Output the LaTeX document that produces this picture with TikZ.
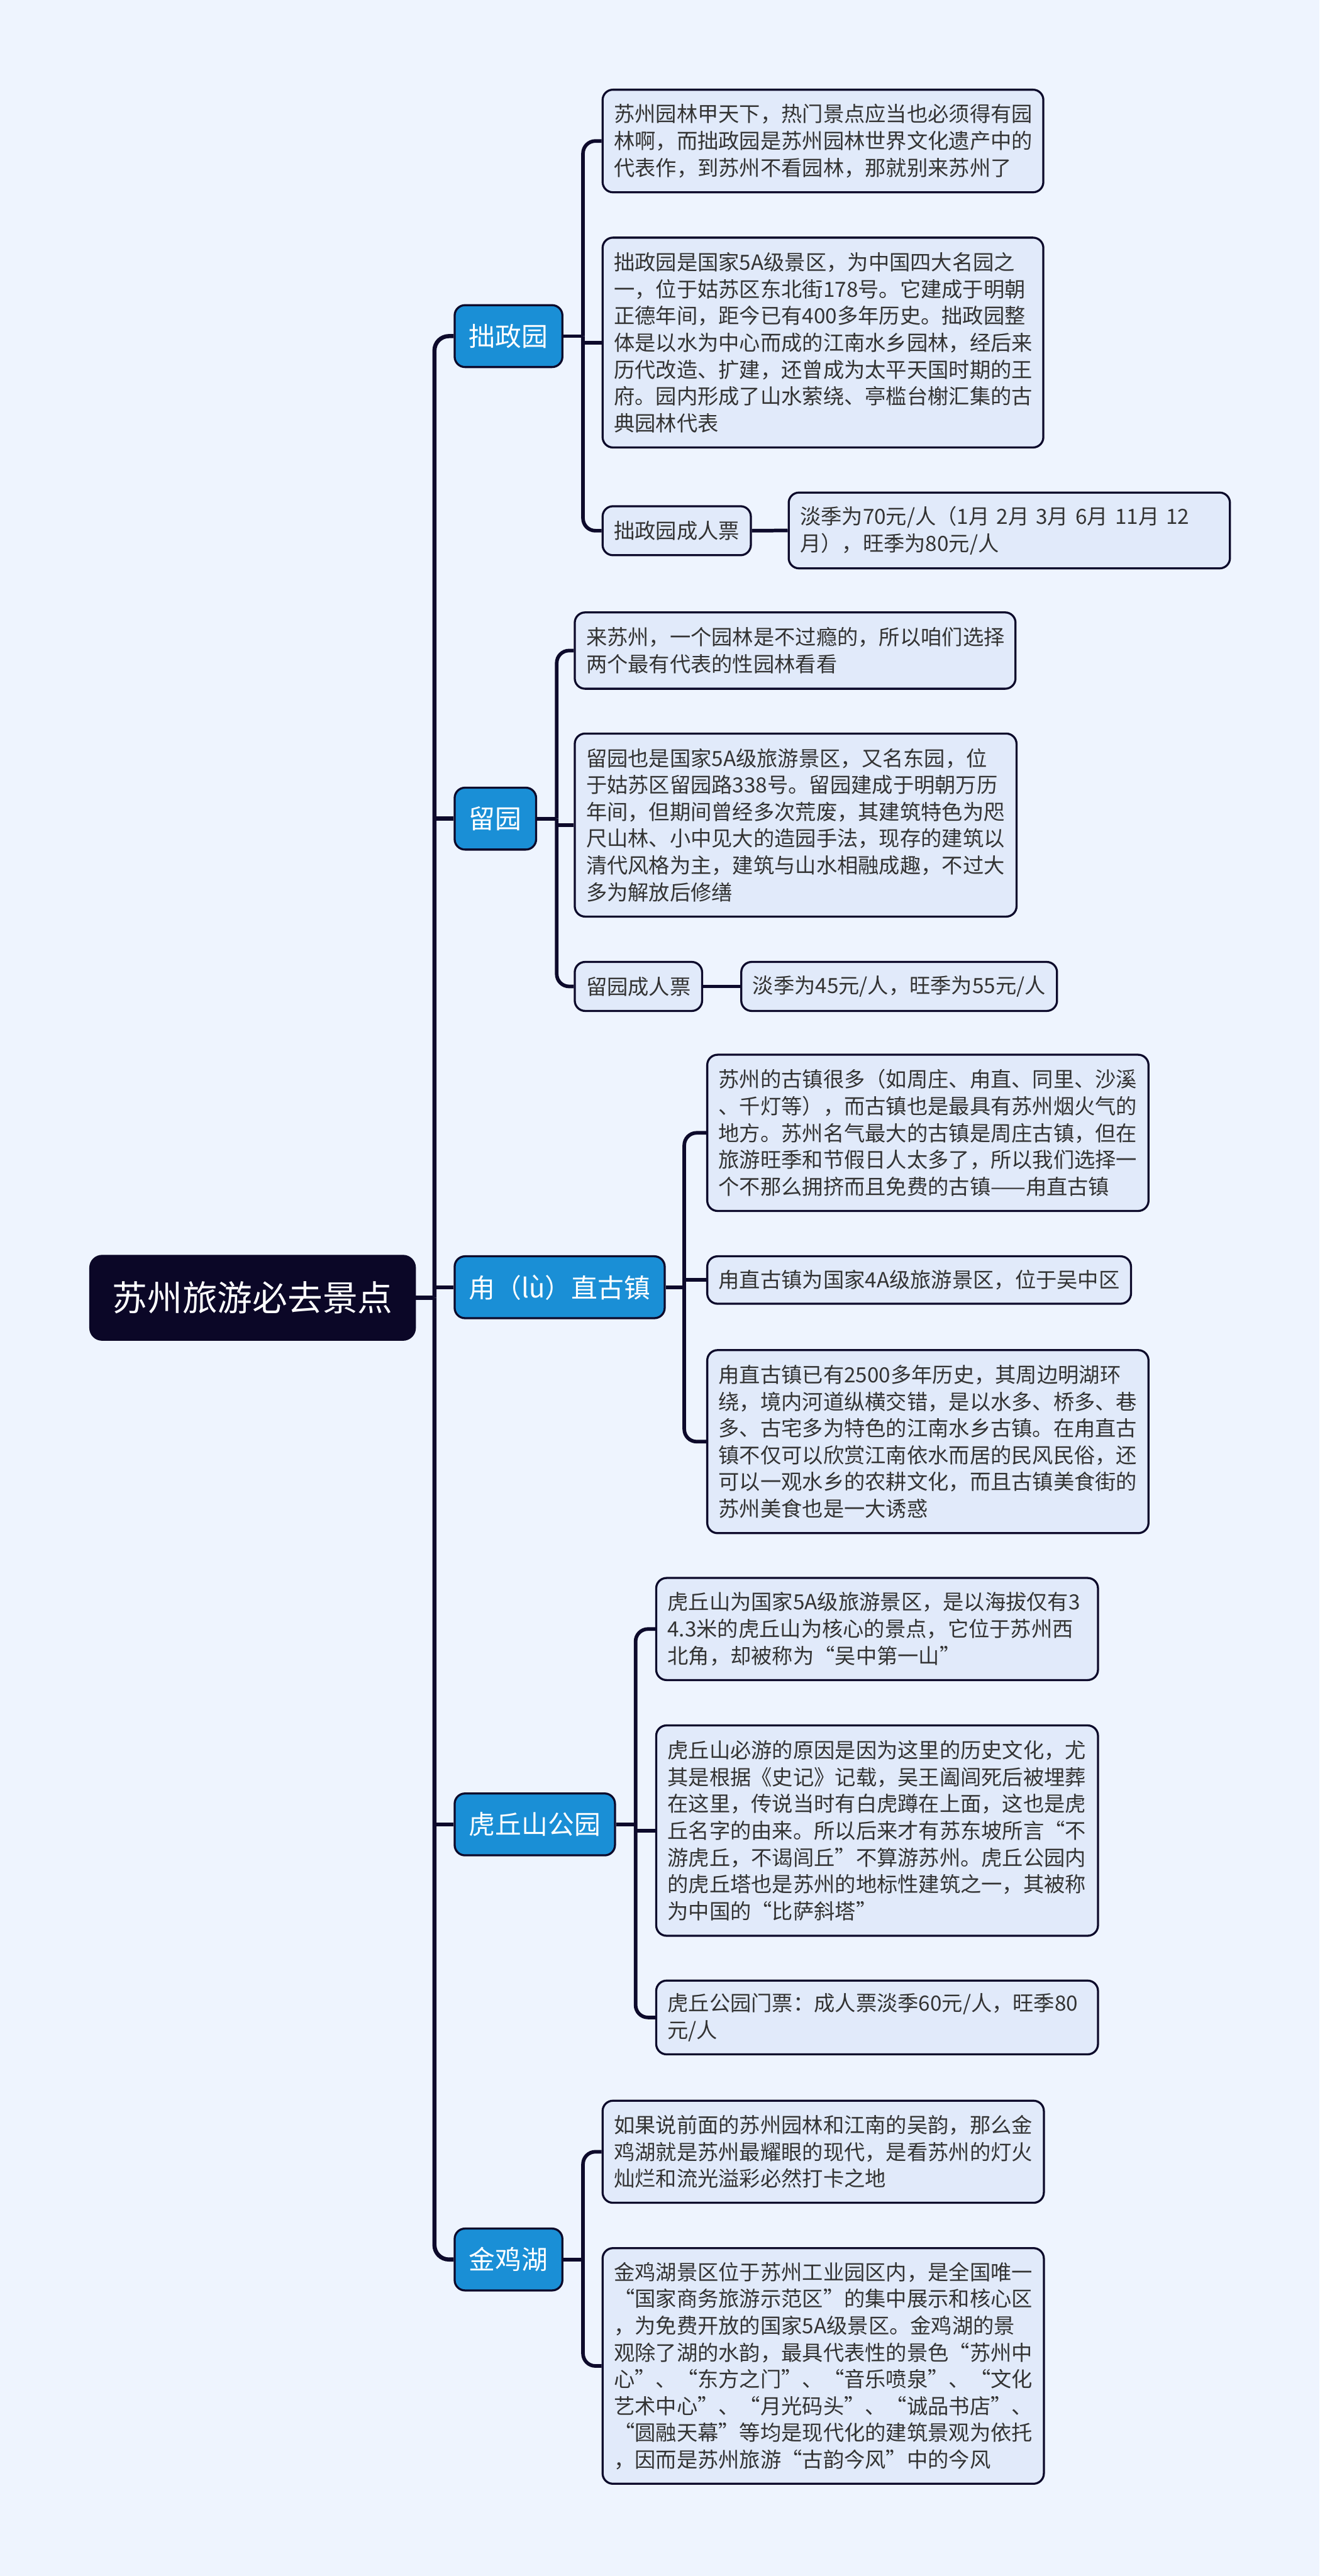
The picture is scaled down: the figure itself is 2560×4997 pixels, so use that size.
\documentclass[tikz,border=0pt]{standalone}
\usepackage{fontspec}
\setmainfont{Noto Sans CJK SC}
\newfontfamily\fwfont[CharacterWidth=Full]{Noto Sans CJK SC}
\newcommand\qL{{\fwfont “}}
\newcommand\qR{{\fwfont ”}}
\usetikzlibrary{backgrounds}
\setlength\parindent{0pt}
\definecolor{bgc}{HTML}{EEF4FE}
\definecolor{leafc}{HTML}{E1EAFA}
\definecolor{topicc}{HTML}{1A8FD6}
\definecolor{rootc}{HTML}{0B0727}
\definecolor{darkc}{HTML}{0D0A2B}
\definecolor{txtc}{HTML}{333333}
\tikzset{
  conn/.style={draw=darkc, line width=1.75pt},
  trunkline/.style={draw=darkc, line width=2pt},
  rootbox/.style={fill=rootc, draw=rootc, rounded corners=6pt, text=white,
    font=\fontsize{17}{20}\selectfont, minimum height=41.25pt, minimum width=158pt, inner sep=0pt},
  topic/.style={fill=topicc, draw=darkc, line width=1pt, rounded corners=5pt, text=white,
    font=\fontsize{12.75}{15}\selectfont, minimum height=30pt, inner xsep=7pt, inner ysep=0pt, anchor=west},
  leaf/.style={fill=leafc, draw=darkc, line width=1pt, rounded corners=5pt, text=txtc,
    font=\fontsize{10.15}{13}\selectfont, align=left, inner xsep=5.5pt, inner ysep=1pt, anchor=west},
}
\begin{document}
\begin{tikzpicture}[x=0.25pt,y=-0.25pt]
\useasboundingbox (0,0) rectangle (2560,4997);
\begin{pgfonlayer}{background}
\fill[bgc] (0,0) rectangle (2560,4997);
\end{pgfonlayer}

% root and topics
\node[rootbox] (root) at (490,2517.5) {苏州旅游必去景点};
\node[topic] (t1) at (880,652) {拙政园};
\node[topic] (t2) at (880,1588) {留园};
\node[topic] (t3) at (880,2497) {甪（lù）直古镇};
\node[topic] (t4) at (880,3539) {虎丘山公园};
\node[topic] (t5) at (880,4383) {金鸡湖};

% group A
\node[leaf, text width=202.75pt, minimum height=49.75pt] (a1) at (1167,273.5)
  {苏州园林甲天下，热门景点应当也必须得有园\\林啊，而拙政园是苏州园林世界文化遗产中的\\代表作，到苏州不看园林，那就别来苏州了};
\node[leaf, text width=202.75pt, minimum height=101.75pt] (a2) at (1167,664.5)
  {拙政园是国家5A级景区，为中国四大名园之\\一，位于姑苏区东北街178号。它建成于明朝\\正德年间，距今已有400多年历史。拙政园整\\体是以水为中心而成的江南水乡园林，经后来\\历代改造、扩建，还曾成为太平天国时期的王\\府。园内形成了山水萦绕、亭槛台榭汇集的古\\典园林代表};
\node[leaf, minimum height=23.75pt] (a3) at (1167,1029.5) {拙政园成人票};
\node[leaf, text width=203pt, minimum height=36.75pt] (a3c) at (1528,1029)
  {淡季为70元/人（1月 2月 3月 6月 11月 12\\月），旺季为80元/人};

% group B
\node[leaf, text width=202.75pt, minimum height=37pt] (b1) at (1113,1262)
  {来苏州，一个园林是不过瘾的，所以咱们选择\\两个最有代表的性园林看看};
\node[leaf, text width=203.25pt, minimum height=88.75pt] (b2) at (1113,1600.5)
  {留园也是国家5A级旅游景区，又名东园，位\\于姑苏区留园路338号。留园建成于明朝万历\\年间，但期间曾经多次荒废，其建筑特色为咫\\尺山林、小中见大的造园手法，现存的建筑以\\清代风格为主，建筑与山水相融成趣，不过大\\多为解放后修缮};
\node[leaf, minimum height=23.75pt] (b3) at (1113,1913.5) {留园成人票};
\node[leaf, minimum height=23.75pt] (b3c) at (1436,1913.5) {淡季为45元/人，旺季为55元/人};

% group C
\node[leaf, text width=203pt, minimum height=75.75pt] (c1) at (1370,2197.5)
  {苏州的古镇很多（如周庄、甪直、同里、沙溪\\、千灯等），而古镇也是最具有苏州烟火气的\\地方。苏州名气最大的古镇是周庄古镇，但在\\旅游旺季和节假日人太多了，所以我们选择一\\个不那么拥挤而且免费的古镇——甪直古镇};
\node[leaf, minimum height=23pt] (c2) at (1370,2483) {甪直古镇为国家4A级旅游景区，位于吴中区};
\node[leaf, text width=203pt, minimum height=88.75pt] (c3) at (1370,2796.5)
  {甪直古镇已有2500多年历史，其周边明湖环\\绕，境内河道纵横交错，是以水多、桥多、巷\\多、古宅多为特色的江南水乡古镇。在甪直古\\镇不仅可以欣赏江南依水而居的民风民俗，还\\可以一观水乡的农耕文化，而且古镇美食街的\\苏州美食也是一大诱惑};

% group D
\node[leaf, text width=203.25pt, minimum height=49.5pt] (d1) at (1271,3160)
  {虎丘山为国家5A级旅游景区，是以海拔仅有3\\4.3米的虎丘山为核心的景点，它位于苏州西\\北角，却被称为\qL 吴中第一山\qR};
\node[leaf, text width=203.25pt, minimum height=102pt] (d2) at (1271,3551)
  {虎丘山必游的原因是因为这里的历史文化，尤\\其是根据《史记》记载，吴王阖闾死后被埋葬\\在这里，传说当时有白虎蹲在上面，这也是虎\\丘名字的由来。所以后来才有苏东坡所言\qL 不\\游虎丘，不谒闾丘\qR 不算游苏州。虎丘公园内\\的虎丘塔也是苏州的地标性建筑之一，其被称\\为中国的\qL 比萨斜塔\qR};
\node[leaf, text width=203.25pt, minimum height=35.75pt] (d3) at (1271,3913.5)
  {虎丘公园门票：成人票淡季60元/人，旺季80\\元/人};

% group E
\node[leaf, text width=203pt, minimum height=49.5pt] (e1) at (1167,4174)
  {如果说前面的苏州园林和江南的吴韵，那么金\\鸡湖就是苏州最耀眼的现代，是看苏州的灯火\\灿烂和流光溢彩必然打卡之地};
\node[leaf, text width=203pt, minimum height=114.25pt] (e2) at (1167,4589.5)
  {金鸡湖景区位于苏州工业园区内，是全国唯一\\\qL 国家商务旅游示范区\qR 的集中展示和核心区\\，为免费开放的国家5A级景区。金鸡湖的景\\观除了湖的水韵，最具代表性的景色\qL 苏州中\\心\qR 、\qL 东方之门\qR 、\qL 音乐喷泉\qR 、\qL 文化\\艺术中心\qR 、\qL 月光码头\qR 、\qL 诚品书店\qR 、\\\qL 圆融天幕\qR 等均是现代化的建筑景观为依托\\，因而是苏州旅游\qL 古韵今风\qR 中的今风};

% junction coordinates
\path (root.east) ++(36,0) coordinate (jR);
\path (t1.east) ++(38,0) coordinate (jA);
\path (t2.east) ++(38,0) coordinate (jB);
\path (t3.east) ++(36,0) coordinate (jC);
\path (t4.east) ++(38,0) coordinate (jD);
\path (t5.east) ++(38,0) coordinate (jE);

\begin{pgfonlayer}{background}
% trunk
\draw[trunkline] (root.east) -- (jR);
\draw[trunkline, rounded corners=7pt] (jR) |- (t1.west);
\draw[trunkline, rounded corners=7pt] (jR) |- (t5.west);
\draw[trunkline] (jR |- t2.west) -- (t2.west);
\draw[trunkline] (jR |- t3.west) -- (t3.west);
\draw[trunkline] (jR |- t4.west) -- (t4.west);
% group A
\draw[conn] (t1.east) -- (jA);
\draw[conn, rounded corners=6pt] (jA) |- (a1.west);
\draw[conn, rounded corners=6pt] (jA) |- (a3.west);
\draw[conn] (jA |- a2.west) -- (a2.west);
\draw[conn] (a3.east) -- (a3c.west);
% group B
\draw[conn] (t2.east) -- (jB);
\draw[conn, rounded corners=6pt] (jB) |- (b1.west);
\draw[conn, rounded corners=6pt] (jB) |- (b3.west);
\draw[conn] (jB |- b2.west) -- (b2.west);
\draw[conn] (b3.east) -- (b3c.west);
% group C
\draw[conn] (t3.east) -- (jC);
\draw[conn, rounded corners=6pt] (jC) |- (c1.west);
\draw[conn, rounded corners=6pt] (jC) |- (c3.west);
\draw[conn] (jC |- c2.west) -- (c2.west);
% group D
\draw[conn] (t4.east) -- (jD);
\draw[conn, rounded corners=6pt] (jD) |- (d1.west);
\draw[conn, rounded corners=6pt] (jD) |- (d3.west);
\draw[conn] (jD |- d2.west) -- (d2.west);
% group E
\draw[conn] (t5.east) -- (jE);
\draw[conn, rounded corners=6pt] (jE) |- (e1.west);
\draw[conn, rounded corners=6pt] (jE) |- (e2.west);
\end{pgfonlayer}
\end{tikzpicture}
\end{document}
